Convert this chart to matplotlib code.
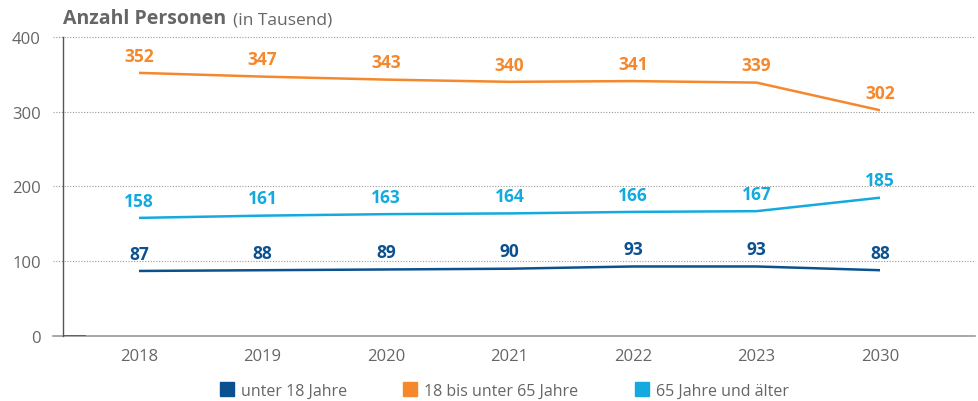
import matplotlib.pyplot as plt
from matplotlib.lines import Line2D

years = ["2018", "2019", "2020", "2021", "2022", "2023", "2030"]
unter18 = [87, 88, 89, 90, 93, 93, 88]
mitte = [352, 347, 343, 340, 341, 339, 302]
ab65 = [158, 161, 163, 164, 166, 167, 185]
names = ["unter 18 Jahre", "18 bis unter 65 Jahre", "65 Jahre und älter"]
colors = ["#0b508f", "#f5882c", "#14aadf"]

plt.rcParams['font.family'] = ['Open Sans', 'DejaVu Sans']
grey = "#666666"

fig = plt.figure(figsize=(9.79, 4.02), dpi=100)
ax = fig.add_axes([0.0644, 0.1617, 0.9316, 0.7438])

x = list(range(len(years)))
for vals, c in zip([unter18, mitte, ab65], colors):
    ax.plot(x, vals, color=c, linewidth=1.8, solid_capstyle='butt')
    for xi, v in zip(x, vals):
        ax.annotate(str(v), (xi, v), xytext=(0, 6), textcoords='offset points',
                    ha='center', va='bottom', color=c, fontsize=12.5, fontweight='bold')

ax.set_xlim(-0.615, 6.77)
ax.set_ylim(0, 400)
ax.set_yticks([0, 100, 200, 300, 400])
ax.set_xticks(x)
ax.set_xticklabels(years)
for yv in [100, 200, 300, 400]:
    ax.axhline(yv, xmin=-0.011, xmax=1, color="#999999", linewidth=0.8,
               linestyle=(0, (1, 1.5)), clip_on=False, zorder=0)
ax.axhline(0, xmin=-0.011, xmax=1, color="#999999", linewidth=1.2, clip_on=False)
# kurzer dunkler Strich am Nullpunkt
ax.axhline(0, xmin=0, xmax=0.024, color="#555555", linewidth=1.2)

for s in ['top', 'right', 'bottom']:
    ax.spines[s].set_visible(False)
ax.spines['left'].set_color("#555555")
ax.spines['left'].set_linewidth(1)
ax.tick_params(axis='both', length=0, labelsize=12, labelcolor=grey)
ax.tick_params(axis='y', pad=16)
ax.tick_params(axis='x', pad=9)

fig.text(0.0644, 0.928, "Anzahl Personen", fontsize=14, fontweight='bold', color=grey, va='bottom')
fig.text(0.238, 0.928, "(in Tausend)", fontsize=12.5, color=grey, va='bottom')

handles = [Line2D([], [], marker='s', linestyle='none', markersize=10, color=c) for c in colors]
fig.legend(handles, names, loc='lower center', bbox_to_anchor=(0.515, -0.03), ncol=3,
           frameon=False, fontsize=11.5, labelcolor=grey, columnspacing=3.5,
           handlelength=0.9, handletextpad=0.45)

fig.savefig("out.png", dpi=100)
